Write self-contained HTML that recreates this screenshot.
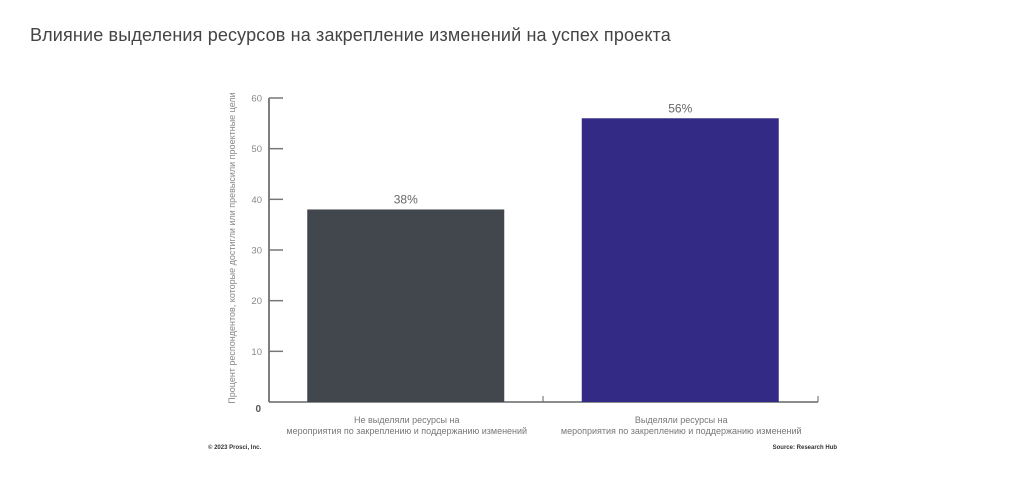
<!DOCTYPE html>
<html><head><meta charset="utf-8"><style>
body{margin:0;width:1024px;height:480px;background:#fff;overflow:hidden;font-family:"Liberation Sans","DejaVu Sans",sans-serif}
#title{position:absolute;left:30px;top:25px;font-size:18px;color:#444;white-space:nowrap;letter-spacing:0.15px}
svg{position:absolute;left:0;top:0}
</style></head><body>
<div id="title">Влияние выделения ресурсов на закрепление изменений на успех проекта</div>
<svg id="chart" width="1024" height="480"></svg>
<script>
const categories=["Не выделяли ресурсы на|мероприятия по закреплению и поддержанию изменений","Выделяли ресурсы на|мероприятия по закреплению и поддержанию изменений"];
const values=[38,56];
const valueLabels=["38%","56%"];
const colors=["#41474d","#332a85"];
const yTicks=[0,10,20,30,40,50,60];
const NS="http://www.w3.org/2000/svg";
const svg=document.getElementById('chart');
const y0=402,yTop=98,yMax=60;
function y(v){return y0-(v/yMax)*(y0-yTop);}
const slotL=269,slotW=274.5;
function xCenter(i){return slotL+slotW*i+slotW/2-0.5;}
function mk(t,a,txt){const e=document.createElementNS(NS,t);for(const k in a)e.setAttribute(k,a[k]);if(txt!=null)e.textContent=txt;svg.appendChild(e);return e;}
let e;
e=mk('line',{x1:269,y1:yTop,x2:269,y2:y0,stroke:'#555','stroke-width':1.5});


e=mk('line',{x1:269,y1:y0,x2:818,y2:y0,stroke:'#666','stroke-width':1.5});


[543,818].forEach(x=>{e=mk('line',{x1:x,y1:y0,x2:x,y2:y0-6,stroke:'#666','stroke-width':1});

});
yTicks.forEach(v=>{
 if(v>0){e=mk('line',{x1:269,y1:y(v),x2:283,y2:y(v),stroke:'#777','stroke-width':1.5});
 
 }
 e=mk('text',{x:v===0?261:262,y:v===0?y(v)+10:y(v)+3.5,'text-anchor':'end','font-size':v===0?10:9.5,fill:v===0?'#555':'#888','font-weight':v===0?'bold':'normal'},String(v));
 
 
});
values.forEach((v,i)=>{
 const cx=xCenter(i),w=197;
 e=mk('rect',{x:cx-w/2,y:y(v),width:w,height:y0-y(v),fill:colors[i]});
 
 
 e=mk('text',{x:cx,y:y(v)-6,'text-anchor':'middle','font-size':12,fill:'#666'},valueLabels[i]);
 
 
 categories[i].split('|').forEach((ln,j)=>{
  e=mk('text',{x:cx+1,y:423+j*11,'text-anchor':'middle','font-size':9,fill:'#777'},ln);
  
  
 });
});
e=mk('text',{x:0,y:0,'text-anchor':'middle','font-size':9,fill:'#888',transform:'translate(235,248) rotate(-90)'},'Процент респондентов, которые достигли или превысили проектные цели');


e=mk('text',{x:208,y:449,'font-size':6,fill:'#333','font-weight':'bold'},'© 2023 Prosci, Inc.');


e=mk('text',{x:837,y:449,'text-anchor':'end','font-size':6,fill:'#333','font-weight':'bold'},'Source: Research Hub');


</script>
</body></html>
